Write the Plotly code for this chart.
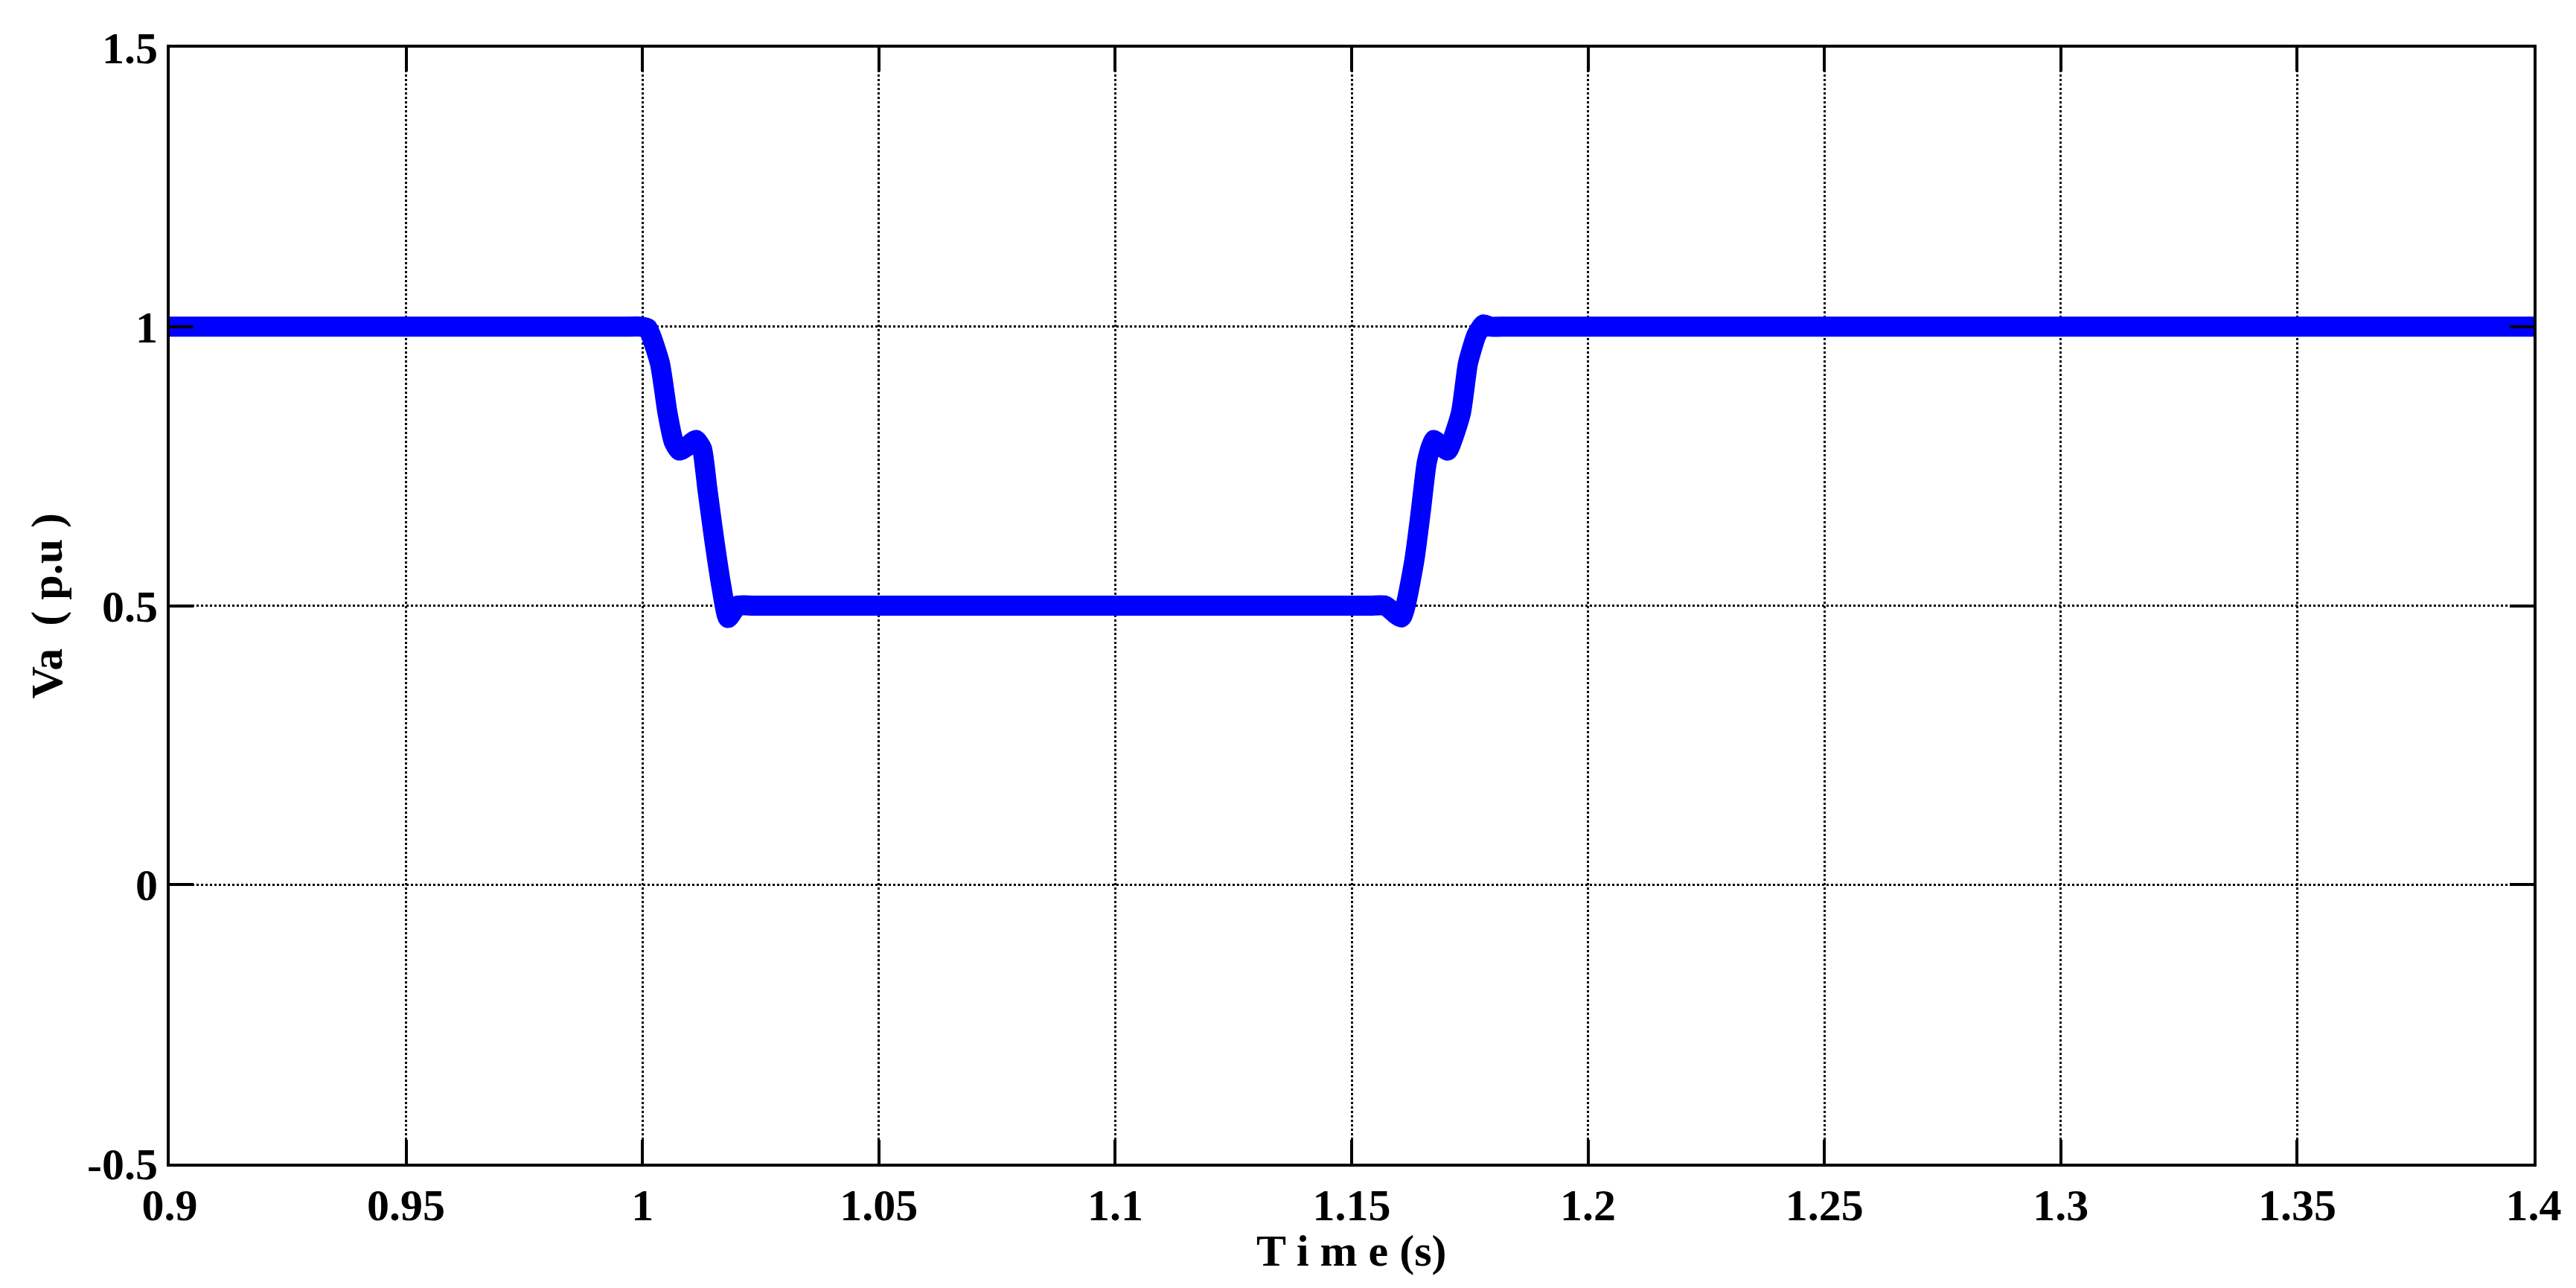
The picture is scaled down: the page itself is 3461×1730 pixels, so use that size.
import plotly.graph_objects as go

time_s = [0.9, 0.95, 0.996, 0.9997, 1.0011, 1.0037, 1.0053, 1.0066, 1.0078, 1.0094, 1.0113, 1.0126,
          1.0137, 1.0151, 1.0167, 1.0181, 1.0201, 1.0235, 1.09,
          1.154, 1.1571, 1.1605, 1.1632, 1.1646, 1.1659, 1.1673, 1.1688, 1.1703, 1.1731,
          1.1746, 1.1764, 1.1779, 1.1794, 1.183, 1.3, 1.4]
va_pu = [1.0, 1.0, 1.0, 1.0, 0.997, 0.934, 0.845, 0.794, 0.778, 0.785, 0.797, 0.781,
         0.711, 0.623, 0.534, 0.478, 0.5, 0.5, 0.5,
         0.5, 0.5, 0.479, 0.578, 0.667, 0.757, 0.797, 0.788, 0.778, 0.845,
         0.934, 0.985, 1.004, 1.0, 1.0, 1.0, 1.0]

x_ticks = [0.9, 0.95, 1.0, 1.05, 1.1, 1.15, 1.2, 1.25, 1.3, 1.35, 1.4]
x_labels = ["0.9", "0.95", "1", "1.05", "1.1", "1.15", "1.2", "1.25", "1.3", "1.35", "1.4"]
y_ticks = [-0.5, 0, 0.5, 1, 1.5]
y_labels = ["-0.5", "0", "0.5", "1", "1.5"]

FONT = "Liberation Serif"

fig = go.Figure()
fig.add_trace(go.Scatter(x=time_s, y=va_pu, mode="lines",
                         line=dict(color="#0000FF", width=27, shape="spline", smoothing=0.5),
                         showlegend=False))

axis_common = dict(
    showline=True, linecolor="black", linewidth=4, mirror="ticks",
    ticks="inside", ticklen=32, tickwidth=4, tickcolor="black",
    showgrid=True, gridcolor="black", gridwidth=3, griddash="dot",
    zeroline=False,
    tickfont=dict(family=FONT, size=60, color="black", weight="bold"),
)

fig.update_xaxes(range=[0.9, 1.4], tickvals=x_ticks, ticktext=x_labels, **axis_common)
fig.update_yaxes(range=[-0.5, 1.5], tickvals=y_ticks, ticktext=y_labels, **axis_common)

title_font = dict(family=FONT, size=60, color="black", weight="bold")
fig.add_annotation(text="T i m e (s)", xref="paper", yref="paper",
                   x=0.5, y=-(1672 - 1555) / 1499, xanchor="center", yanchor="middle",
                   showarrow=False, font=title_font)
fig.add_annotation(text="Va  ( p.u )", xref="paper", yref="paper",
                   x=-(220 - 54) / 3176, y=0.5, xanchor="center", yanchor="middle",
                   textangle=-90, showarrow=False, font=title_font)

fig.update_layout(width=3461, height=1730,
                  margin=dict(l=220, r=65, t=56, b=175),
                  plot_bgcolor="white", paper_bgcolor="white",
                  font=dict(family=FONT))

fig.write_html("out.html")
